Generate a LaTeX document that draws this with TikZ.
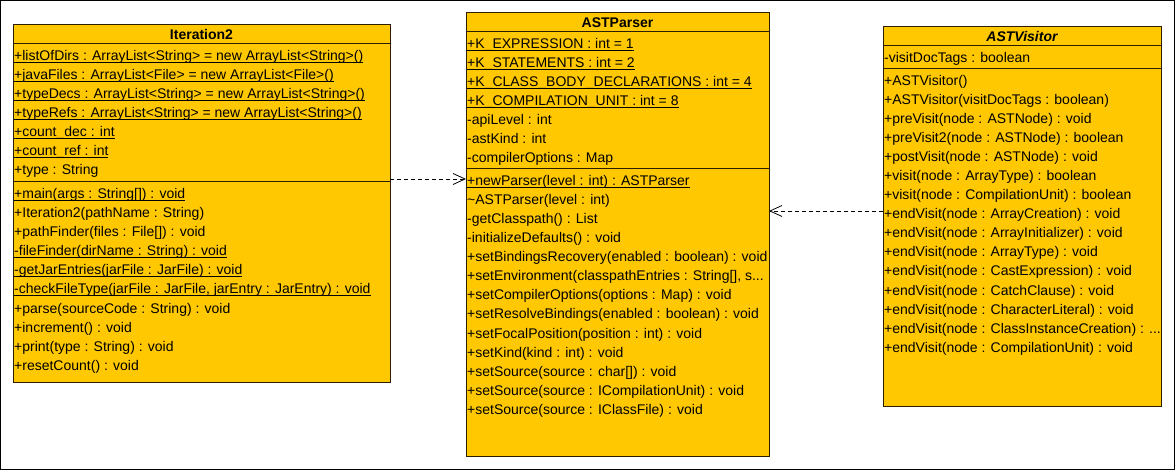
\documentclass[tikz,border=0pt]{standalone}
\usepackage{fontspec}
\setmainfont{Liberation Sans}
\usetikzlibrary{arrows.meta}
\definecolor{classfill}{RGB}{255,200,0}
\definecolor{classline}{RGB}{45,30,0}
\newcommand\stat[1]{\setbox0=\hbox{#1}\rlap{\vrule height -1.3pt depth 2.3pt width \wd0}\box0}
\newcommand\threedots{...}
\begin{document}
\begin{tikzpicture}[x=1pt, y=-1pt, font=\fontsize{14}{17}\selectfont,
  classbox/.style={draw=classline, fill=classfill, line width=1pt, anchor=north west, inner sep=0pt, outer sep=0pt},
  compline/.style={draw=classline, line width=1pt},
  member/.style={anchor=base west, inner sep=0pt},
  classtitle/.style={anchor=base, inner sep=0pt, font=\fontsize{14}{17}\selectfont\bfseries},
  depline/.style={dash pattern=on 4pt off 3pt, line width=0.8pt, -{Straight Barb[length=12pt,width=11pt]}},
  outerframe/.style={draw=black, line width=1pt}]
\useasboundingbox (0,0) rectangle (1175,470);
\draw[outerframe] (0.5,0.5) rectangle (1174.5,469.5);

% ---------- Iteration2 ----------
\node[classbox, minimum width=377pt, minimum height=357pt] (it) at (13,25) {};
\draw[compline] (it.west |- 0,44) -- (it.east |- 0,44);
\draw[compline] (it.west |- 0,182) -- (it.east |- 0,182);
\node[classtitle] (it-t) at (201.5,40) {Iteration2};
\foreach \t [count=\i from 0] in {
  {\stat{+listOfDirs : ArrayList<String> = new ArrayList<String>()}},
  {\stat{+javaFiles : ArrayList<File> = new ArrayList<File>()}},
  {\stat{+typeDecs : ArrayList<String> = new ArrayList<String>()}},
  {\stat{+typeRefs : ArrayList<String> = new ArrayList<String>()}},
  {\stat{+count\_dec : int}},
  {\stat{+count\_ref : int}},
  {+type : String}}
  \node[member] (it-a\i) at (14,{61+19*\i}) {\t};
\foreach \t [count=\i from 0] in {
  {\stat{+main(args : String[]) : void}},
  {+Iteration2(pathName : String)},
  {+pathFinder(files : File[]) : void},
  {\stat{-fileFinder(dirName : String) : void}},
  {\stat{-getJarEntries(jarFile : JarFile) : void}},
  {\stat{-checkFileType(jarFile : JarFile, jarEntry : JarEntry) : void}},
  {+parse(sourceCode : String) : void},
  {+increment() : void},
  {+print(type : String) : void},
  {+resetCount() : void}}
  \node[member] (it-m\i) at (14,{199+19*\i}) {\t};

% ---------- ASTParser ----------
\node[classbox, minimum width=303pt, minimum height=443pt] (ap) at (466,13) {};
\draw[compline] (ap.west |- 0,32) -- (ap.east |- 0,32);
\draw[compline] (ap.west |- 0,169) -- (ap.east |- 0,169);
\node[classtitle] (ap-t) at (617.5,28) {ASTParser};
\foreach \t [count=\i from 0] in {
  {\stat{+K\_EXPRESSION : int = 1}},
  {\stat{+K\_STATEMENTS : int = 2}},
  {\stat{+K\_CLASS\_BODY\_DECLARATIONS : int = 4}},
  {\stat{+K\_COMPILATION\_UNIT : int = 8}},
  {-apiLevel : int},
  {-astKind : int},
  {-compilerOptions : Map}}
  \node[member] (ap-a\i) at (467,{49+19*\i}) {\t};
\foreach \t [count=\i from 0] in {
  {\stat{+newParser(level : int) : ASTParser}},
  {\textasciitilde ASTParser(level : int)},
  {-getClasspath() : List},
  {-initializeDefaults() : void},
  {+setBindingsRecovery(enabled : boolean) : void},
  {+setEnvironment(classpathEntries : String[], s\threedots},
  {+setCompilerOptions(options : Map) : void},
  {+setResolveBindings(enabled : boolean) : void},
  {+setFocalPosition(position : int) : void},
  {+setKind(kind : int) : void},
  {+setSource(source : char[]) : void},
  {+setSource(source : ICompilationUnit) : void},
  {+setSource(source : IClassFile) : void}}
  \node[member] (ap-m\i) at (467,{186+19*\i}) {\t};

% ---------- ASTVisitor ----------
\node[classbox, minimum width=278pt, minimum height=379pt] (av) at (883,27) {};
\draw[compline] (av.west |- 0,46) -- (av.east |- 0,46);
\draw[compline] (av.west |- 0,69) -- (av.east |- 0,69);
\node[classtitle, font=\fontsize{14}{17}\selectfont\bfseries\itshape] (av-t) at (1022,42) {ASTVisitor};
\node[member] (av-a0) at (884,63) {-visitDocTags : boolean};
\foreach \t [count=\i from 0] in {
  {+ASTVisitor()},
  {+ASTVisitor(visitDocTags : boolean)},
  {+preVisit(node : ASTNode) : void},
  {+preVisit2(node : ASTNode) : boolean},
  {+postVisit(node : ASTNode) : void},
  {+visit(node : ArrayType) : boolean},
  {+visit(node : CompilationUnit) : boolean},
  {+endVisit(node : ArrayCreation) : void},
  {+endVisit(node : ArrayInitializer) : void},
  {+endVisit(node : ArrayType) : void},
  {+endVisit(node : CastExpression) : void},
  {+endVisit(node : CatchClause) : void},
  {+endVisit(node : CharacterLiteral) : void},
  {+endVisit(node : ClassInstanceCreation) : \threedots},
  {+endVisit(node : CompilationUnit) : void}}
  \node[member] (av-m\i) at (884,{86+19*\i}) {\t};

% ---------- dependencies ----------
\draw[depline] (it.east |- 0,179) -- (ap.west |- 0,179);
\draw[depline] (av.west |- 0,211) -- (ap.east |- 0,211);
\end{tikzpicture}
\end{document}
